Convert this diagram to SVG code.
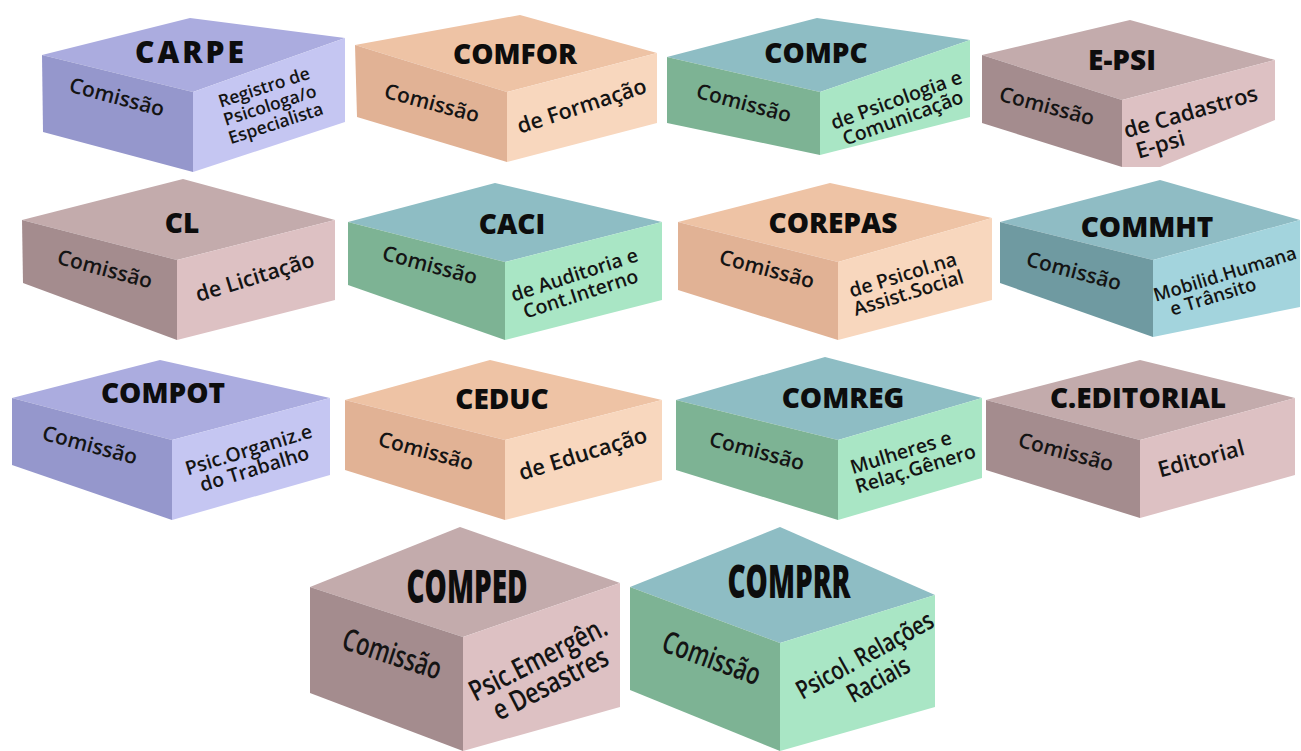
<svg xmlns="http://www.w3.org/2000/svg" width="1301" height="751" viewBox="0 0 1301 751">
<style>
.t{font-family:"Open Sans","DejaVu Sans",sans-serif;font-weight:800;fill:#0d0d0d;text-anchor:middle;font-size:28px}
.c{font-family:"Open Sans","DejaVu Sans",sans-serif;font-weight:600;fill:#141414;text-anchor:middle;font-size:21px}
.d{font-family:"Open Sans","DejaVu Sans",sans-serif;font-weight:600;fill:#141414;text-anchor:middle;font-size:19.5px}
.lv .tp{fill:#abacdf}.lv .lf{fill:#9597cc}.lv .rf{fill:#c5c6f2}
.pc .tp{fill:#eec3a5}.pc .lf{fill:#e1b295}.pc .rf{fill:#f8d7be}
.gr .tp{fill:#8ebdc4}.gr .lf{fill:#7db394}.gr .rf{fill:#a9e6c5}
.mv .tp{fill:#c3abac}.mv .lf{fill:#a48c8e}.mv .rf{fill:#ddc1c3}
.tl .tp{fill:#8fbcc4}.tl .lf{fill:#6f9aa1}.tl .rf{fill:#a3d4dd}
</style>
<rect width="1301" height="751" fill="#ffffff"/>

<g id="carpe" class="lv">
<polygon class="tp" points="42,55 190,18 345,38 193,92"/>
<polygon class="lf" points="42,55 193,92 193,172 43,132"/>
<polygon class="rf" points="193,92 345,38 345,122 193,172"/>
<text class="t" x="191" y="63" style="font-size:30px" letter-spacing="3">CARPE</text>
<text class="c" transform="translate(115,104) rotate(15)">Comissão</text>
<g transform="translate(272,112) rotate(-18)"><text class="d" style="font-size:17.5px" y="-20">Registro de</text><text class="d" style="font-size:17.5px" y="-1">Psicologa/o</text><text class="d" style="font-size:17.5px" y="18">Especialista</text></g>
</g>

<g id="comfor" class="pc">
<polygon class="tp" points="355,45 520,15 657,53 507,92"/>
<polygon class="lf" points="355,45 507,92 507,162 357,117"/>
<polygon class="rf" points="507,92 657,53 657,123 507,162"/>
<text class="t" x="515" y="64">COMFOR</text>
<text class="c" transform="translate(430,110) rotate(15)">Comissão</text>
<text class="d" style="font-size:21.5px" transform="translate(584,113) rotate(-18)">de Formação</text>
</g>

<g id="compc" class="gr">
<polygon class="tp" points="667,57 817,18 970,40 820,92"/>
<polygon class="lf" points="667,57 820,92 820,155 667,123"/>
<polygon class="rf" points="820,92 970,40 970,117 820,155"/>
<text class="t" x="816" y="63">COMPC</text>
<text class="c" transform="translate(742,110) rotate(15)">Comissão</text>
<g transform="translate(900,110) rotate(-20)"><text class="d" y="-4">de Psicologia e</text><text class="d" y="15">Comunicação</text></g>
</g>

<g id="epsi" class="mv">
<polygon class="tp" points="982,55 1130,20 1275,60 1122,100"/>
<polygon class="lf" points="982,55 1122,100 1122,167 982,123"/>
<polygon class="rf" points="1122,100 1275,60 1275,120 1160,167 1122,167"/>
<text class="t" x="1122" y="70">E-PSI</text>
<text class="c" transform="translate(1045,113) rotate(15)">Comissão</text>
<g transform="translate(1194,124) rotate(-16)"><text class="d" style="font-size:22px" y="-5">de Cadastros</text><text class="d" style="font-size:22px" x="-38" y="18">E-psi</text></g>
</g>

<g id="cl" class="mv">
<polygon class="tp" points="22,220 183,179 335,220 177,260"/>
<polygon class="lf" points="22,220 177,260 177,340 23,283"/>
<polygon class="rf" points="177,260 335,220 335,300 177,340"/>
<text class="t" x="182" y="233">CL</text>
<text class="c" transform="translate(103,276) rotate(15)">Comissão</text>
<text class="d" style="font-size:21.5px" transform="translate(257,284) rotate(-17)">de Licitação</text>
</g>

<g id="caci" class="gr">
<polygon class="tp" points="348,222 495,183 662,222 505,262"/>
<polygon class="lf" points="348,222 505,262 505,340 348,285"/>
<polygon class="rf" points="505,262 662,222 662,300 505,340"/>
<text class="t" x="512" y="234">CACI</text>
<text class="c" transform="translate(428,272) rotate(15)">Comissão</text>
<g transform="translate(578,286) rotate(-18)"><text class="d" y="-5">de Auditoria e</text><text class="d" y="15">Cont.Interno</text></g>
</g>

<g id="corepas" class="pc">
<polygon class="tp" points="678,222 830,183 992,218 838,262"/>
<polygon class="lf" points="678,222 838,262 838,340 678,290"/>
<polygon class="rf" points="838,262 992,218 992,300 838,340"/>
<text class="t" x="833" y="233">COREPAS</text>
<text class="c" transform="translate(765,276) rotate(15)">Comissão</text>
<g transform="translate(906,285) rotate(-17)"><text class="d" y="-4">de Psicol.na</text><text class="d" y="15">Assist.Social</text></g>
</g>

<g id="commht" class="tl">
<polygon class="tp" points="1000,222 1160,180 1300,220 1153,260"/>
<polygon class="lf" points="1000,222 1153,260 1153,337 1000,283"/>
<polygon class="rf" points="1153,260 1300,220 1300,307 1153,337"/>
<text class="t" x="1147" y="237">COMMHT</text>
<text class="c" transform="translate(1072,278) rotate(15)">Comissão</text>
<g transform="translate(1228,284) rotate(-17)"><text class="d" style="font-size:18.5px" y="-4">Mobilid.Humana</text><text class="d" style="font-size:18.5px" x="-18" y="14">e Trânsito</text></g>
</g>

<g id="compot" class="lv">
<polygon class="tp" points="12,398 160,360 330,398 172,440"/>
<polygon class="lf" points="12,398 172,440 172,520 12,465"/>
<polygon class="rf" points="172,440 330,398 330,475 172,520"/>
<text class="t" x="163" y="403">COMPOT</text>
<text class="c" transform="translate(88,452) rotate(15)">Comissão</text>
<g transform="translate(252,461) rotate(-17)"><text class="d" y="-5">Psic.Organiz.e</text><text class="d" y="15">do Trabalho</text></g>
</g>

<g id="ceduc" class="pc">
<polygon class="tp" points="345,400 490,360 662,400 505,440"/>
<polygon class="lf" points="345,400 505,440 505,520 345,470"/>
<polygon class="rf" points="505,440 662,400 662,480 505,520"/>
<text class="t" x="502" y="409">CEDUC</text>
<text class="c" transform="translate(424,458) rotate(15)">Comissão</text>
<text class="d" style="font-size:22px" transform="translate(585,461) rotate(-17)">de Educação</text>
</g>

<g id="comreg" class="gr">
<polygon class="tp" points="676,400 825,357 982,398 838,440"/>
<polygon class="lf" points="676,400 838,440 838,520 676,470"/>
<polygon class="rf" points="838,440 982,398 982,478 838,520"/>
<text class="t" x="843" y="408">COMREG</text>
<text class="c" transform="translate(755,458) rotate(15)">Comissão</text>
<g transform="translate(913,461) rotate(-17)"><text class="d" x="-9" y="-5">Mulheres e</text><text class="d" y="15">Relaç.Gênero</text></g>
</g>

<g id="ceditorial" class="mv">
<polygon class="tp" points="986,400 1140,360 1295,398 1140,440"/>
<polygon class="lf" points="986,400 1140,440 1140,518 986,470"/>
<polygon class="rf" points="1140,440 1295,398 1295,475 1140,518"/>
<text class="t" x="1138" y="408">C.EDITORIAL</text>
<text class="c" transform="translate(1064,459) rotate(15)">Comissão</text>
<text class="d" style="font-size:22px" transform="translate(1203,466) rotate(-15)">Editorial</text>
</g>

<g id="comped" class="mv">
<polygon class="tp" points="310,587 460,527 620,583 463,637"/>
<polygon class="lf" points="310,587 463,637 463,751 310,693"/>
<polygon class="rf" points="463,637 620,583 620,707 463,751"/>
<text class="t" style="font-size:40px" transform="translate(467,603) scale(0.7,1.15)">COMPED</text>
<text class="c" style="font-size:24.5px" transform="translate(389,664) rotate(18) scale(0.9,1.25)">Comissão</text>
<g transform="translate(546,675) rotate(-27) scale(0.9,1.15)"><text class="d" style="font-size:25px" y="-7">Psic.Emergên.</text><text class="d" style="font-size:25px" y="17">e Desastres</text></g>
</g>

<g id="comprr" class="gr">
<polygon class="tp" points="630,587 780,527 935,595 780,643"/>
<polygon class="lf" points="630,587 780,643 780,751 630,690"/>
<polygon class="rf" points="780,643 935,595 935,707 780,751"/>
<text class="t" style="font-size:40px" transform="translate(789,598) scale(0.7,1.15)">COMPRR</text>
<text class="c" style="font-size:24.5px" transform="translate(708,668) rotate(20) scale(0.9,1.25)">Comissão</text>
<g transform="translate(873,670) rotate(-29) scale(0.9,1.15)"><text class="d" style="font-size:22.5px" y="-7">Psicol. Relações</text><text class="d" style="font-size:22.5px" y="17">Raciais</text></g>
</g>
</svg>
